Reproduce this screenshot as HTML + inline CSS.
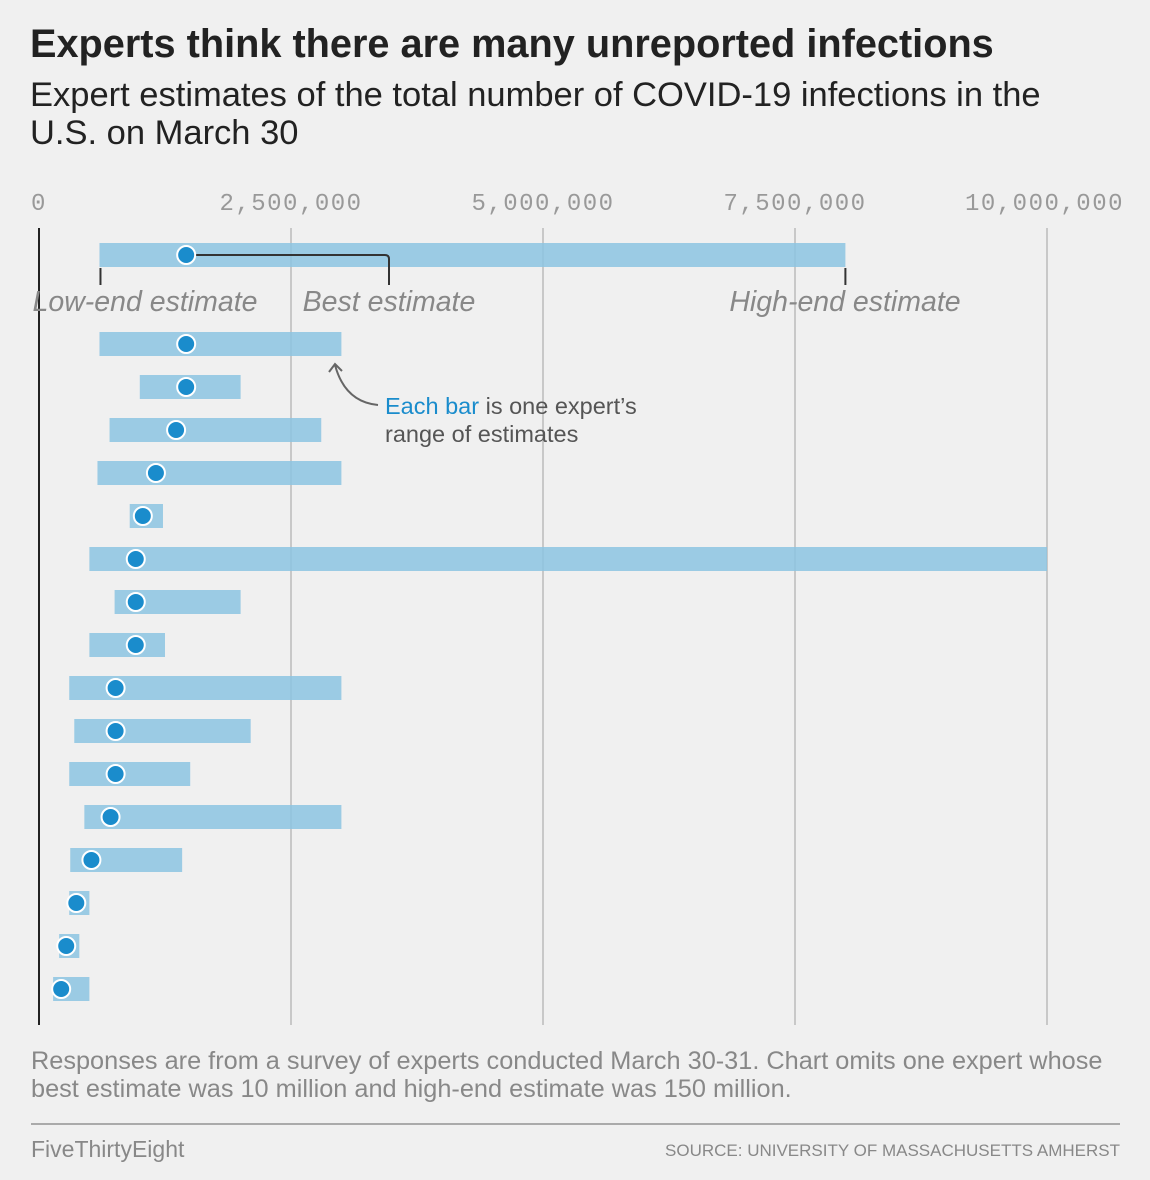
<!DOCTYPE html>
<html><head><meta charset="utf-8"><style>
body{margin:0;background:#f0f0f0;font-family:"Liberation Sans",sans-serif;}
#wrap{position:relative;width:1150px;height:1180px;background:#f0f0f0;overflow:hidden}
.t{position:absolute;white-space:nowrap}
</style></head><body>
<div id="wrap">
<div class="t" style="left:30px;top:22px;font-size:39.7px;font-weight:bold;color:#222">Experts think there are many unreported infections</div>
<div class="t" style="left:30px;top:76px;font-size:34.5px;line-height:38px;color:#222">Expert estimates of the total number of COVID-19 infections in the<br>U.S. on March 30</div>
<svg id="chart" width="1150" height="1180" style="position:absolute;left:0;top:0"></svg>
<div class="t" style="left:31px;top:1047px;font-size:25.3px;line-height:28px;color:#888">Responses are from a survey of experts conducted March 30-31. Chart omits one expert whose<br>best estimate was 10 million and high-end estimate was 150 million.</div>
<div style="position:absolute;left:31px;top:1123px;width:1089px;height:2px;background:#aaa"></div>
<div class="t" style="left:31px;top:1136px;font-size:23px;color:#888">FiveThirtyEight</div>
<div class="t" style="right:30px;top:1141px;font-size:17px;color:#888;letter-spacing:0px">SOURCE: UNIVERSITY OF MASSACHUSETTS AMHERST</div>
</div>
<script>
const lows=[0.6,0.6,1.0,0.7,0.58,0.9,0.5,0.75,0.5,0.3,0.35,0.3,0.45,0.31,0.3,0.2,0.14];
const bests=[1.46,1.46,1.46,1.36,1.16,1.03,0.96,0.96,0.96,0.76,0.76,0.76,0.71,0.52,0.37,0.27,0.22];
const highs=[8.0,3.0,2.0,2.8,3.0,1.23,10.0,2.0,1.25,3.0,2.1,1.5,3.0,1.42,0.5,0.4,0.5];
const ticks=[0,2.5,5,7.5,10];
const tickLabels=["0","2,500,000","5,000,000","7,500,000","10,000,000"];
const svg=document.getElementById('chart');const NS='http://www.w3.org/2000/svg';
const x=v=>39+v*100.8;
const y=i=>i===0?255:344+(i-1)*43;
function mk(t,a,p){const e=document.createElementNS(NS,t);for(const k in a)e.setAttribute(k,a[k]);(p||svg).appendChild(e);return e;}
ticks.forEach((t,i)=>{
 if(i>0){const g=mk('line',{x1:x(t),x2:x(t),y1:228,y2:1025,stroke:'#c8c8c8','stroke-width':2});
 
 }
 const tx=mk('text',{x:i===0?x(t):i===4?1124:x(t),y:210,'text-anchor':i===0?'middle':i===4?'end':'middle','font-size':24,fill:'#999','font-family':'Liberation Mono,monospace','letter-spacing':'1.5'});
 tx.textContent=tickLabels[i];
 
 
});
lows.forEach((l,i)=>{
 const r=mk('rect',{x:x(l),y:y(i)-12,width:x(highs[i])-x(l),height:24,fill:'#8cc4e2','fill-opacity':0.85});
 
 
});
const z=mk('line',{x1:39,x2:39,y1:228,y2:1025,stroke:'#222','stroke-width':2});


const br=mk('path',{d:`M${x(bests[0])} 255 H385 Q389 255 389 259 V285 M${x(lows[0])+1} 268 V285 M${x(highs[0])} 268 V285`,stroke:'#333','stroke-width':2,fill:'none'});


bests.forEach((b,i)=>{
 const c=mk('circle',{cx:x(b),cy:y(i),r:9,fill:'#1a8ccc',stroke:'#fff','stroke-width':2});
 
 
});
[["Low-end estimate",145],["Best estimate",389],["High-end estimate",845]].forEach(([s,cx])=>{
 const t=mk('text',{x:cx,y:311,'text-anchor':'middle','font-size':28.5,'font-style':'italic',fill:'#888'});t.textContent=s;
 
 
});
const ar=mk('path',{d:'M378 405 Q345 402 335 365 M329 372 L335 364 L342 371',stroke:'#666','stroke-width':2,fill:'none'});


const a1=mk('text',{x:385,y:414,'font-size':23.5,fill:'#555'});a1.innerHTML='<tspan fill="#1a8ccc">Each bar</tspan> is one expert’s';


const a2=mk('text',{x:385,y:442,'font-size':23.5,fill:'#555'});a2.textContent='range of estimates';


</script>
</body></html>
